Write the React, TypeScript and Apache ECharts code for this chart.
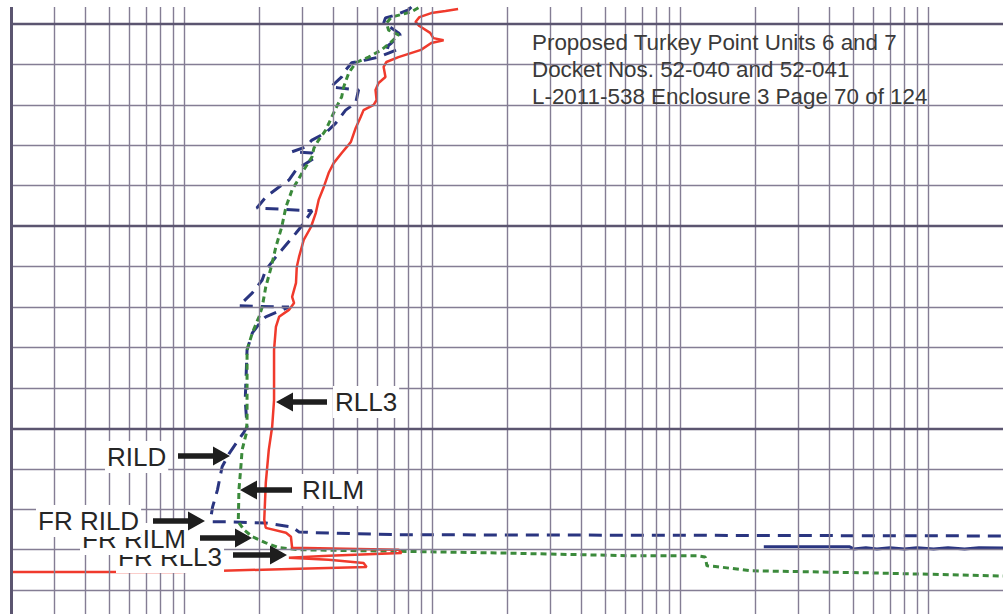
import React, { useEffect, useRef } from "react";
import * as echarts from "echarts";

// Resistivity (ohm-m) on a log scale vs. depth (relative units, 10 per grid division)
const rll3Res = [12.7, 11.3, 9.9, 8.87, 8.55, 8.87, 9.8, 10.1, 11.1, 9.9, 9.0, 7.3, 6.53, 6.36, 6.47, 6.07, 5.9, 5.96, 5.8, 5.28, 5.14, 4.91, 4.69, 4.52, 4.31, 4.0, 3.82, 3.65, 3.48, 3.39, 3.24, 3.03, 2.9, 2.84, 2.82, 2.72, 2.77, 2.64, 2.41, 2.34, 2.3, 2.3, 2.26, 2.19, 2.13, 2.1, 2.13, 2.57, 2.69, 2.72, 7.3, 7.51, 3.82, 2.64, 3.82, 5.28, 5.43, 2.9, 0.955, 0.2];
const rll3Depth = [-3.7, -3.2, -2.7, -1.7, -0.5, 0.5, 2.2, 3.5, 4.0, 4.7, 6.4, 8.2, 9.4, 10.6, 13.1, 14.6, 16.3, 18.8, 20.0, 21.3, 23.0, 25.7, 29.2, 30.4, 31.9, 34.4, 36.8, 40.3, 43.5, 46.7, 50.2, 53.4, 57.6, 60.1, 64.0, 67.5, 69.0, 70.7, 72.4, 74.9, 80.6, 93.0, 99.6, 105.3, 113.5, 122.6, 124.6, 125.8, 126.8, 129.5, 130.0, 130.8, 131.5, 132.0, 132.5, 133.3, 134.3, 134.7, 135.5, 135.5];

const rilmRes = [8.79, 8.24, 6.84, 6.53, 6.66, 7.3, 6.84, 6.24, 5.53, 4.91, 4.6, 4.39, 4.31, 4.11, 3.93, 3.72, 3.48, 3.33, 3.27, 3.03, 2.84, 2.72, 2.57, 2.47, 2.34, 2.24, 2.13, 2.06, 2.0, 1.88, 1.79, 1.79, 1.79, 1.79, 1.78, 1.71, 1.69, 1.66, 1.65, 1.74, 1.88, 2.13, 2.41, 2.9, 18.4, 63, 117, 126, 128, 141, 191, 548, 2000];
const rilmDepth = [-4.0, -3.0, -1.7, -0.2, 1.5, 2.7, 4.4, 6.4, 8.2, 9.6, 12.1, 15.6, 18.0, 20.5, 23.0, 26.2, 28.7, 30.7, 32.9, 36.1, 39.1, 41.0, 45.2, 50.2, 55.1, 60.1, 65.0, 70.0, 72.4, 76.4, 80.6, 84.8, 93.0, 97.9, 101.1, 105.3, 109.5, 115.2, 123.1, 125.1, 126.8, 128.3, 129.5, 130.0, 130.8, 131.5, 131.5, 131.8, 134.0, 134.2, 135.2, 135.7, 136.5];

const rildRes = [8.23, 8.01, 7.1, 6.47, 6.36, 6.84, 7.3, 7.43, 6.84, 6.53, 7.17, 6.66, 6.07, 5.38, 4.73, 4.47, 4.31, 3.89, 4.19, 5.04, 4.91, 4.47, 4.08, 3.72, 3.27, 3.09, 2.72, 3.27, 3.39, 2.82, 2.64, 2.41, 2.13, 1.96, 3.27, 2.95, 2.82, 2.47, 2.34, 2.13, 2.06, 1.88, 1.66, 2.64, 2.13, 2.06, 1.88, 1.79, 1.78, 1.76, 1.79, 1.74, 1.62, 1.52, 1.42, 1.36, 1.30, 1.28, 1.30, 1.48, 2.13, 2.72, 2.9, 3.39, 7.3, 2000];
const rildDepth = [-4.2, -3.5, -2.2, -1.5, -0.2, 1.0, 2.2, 2.7, 4.7, 5.7, 6.4, 7.2, 8.2, 8.9, 9.6, 11.4, 13.1, 15.6, 15.8, 16.3, 19.5, 21.3, 24.5, 26.9, 28.7, 30.4, 31.6, 31.9, 32.9, 36.1, 38.6, 40.3, 42.8, 45.5, 46.2, 50.2, 51.7, 55.9, 57.6, 60.8, 63.3, 66.5, 69.7, 70.0, 72.4, 73.2, 76.4, 80.6, 84.8, 93.0, 99.6, 100.9, 103.6, 106.1, 109.5, 115.2, 119.4, 121.9, 123.1, 123.1, 123.4, 124.4, 125.6, 125.8, 126.3, 126.6];

const rildSolidRes = [217, 482, 500, 560, 620, 700, 800, 900, 1050, 1200, 1400, 1600, 2000];
const rildSolidDepth = [129.3, 129.3, 129.8, 129.5, 129.8, 129.5, 129.8, 129.5, 129.8, 129.5, 129.8, 129.5, 129.6];

// Grid (tick) values
const gridRes = [0.3, 0.4, 0.5, 0.6, 0.7, 0.8, 0.9, 1, 2, 3, 4, 5, 6, 7, 8, 9, 10, 20, 30, 40, 50, 60, 70, 80, 90, 100, 200, 300, 400, 500, 600, 700, 800, 900, 1000];
const gridDepth = [0, 10, 20, 30, 40, 50, 60, 70, 80, 90, 100, 110, 120, 130, 140];
const majorDepth = [0, 50, 100];

const headerLines = [
  "Proposed Turkey Point Units 6 and 7",
  "Docket Nos. 52-040 and 52-041",
  "L-2011-538 Enclosure 3 Page 70 of 124",
];

const curveLabels = ["RLL3", "RILD", "RILM", "FR RILD", "FR RILM", "FR RLL3"];

const FONT = '"Liberation Sans", Arial, sans-serif';

const zip = (a: number[], b: number[]) => a.map((v, i) => [v, b[i]]);

function arrow(tail: number, tip: number, y: number, z: number) {
  const dir = tip > tail ? 1 : -1;
  const hl = 17, hh = 9.5, sh = 2.7;
  const base = tip - dir * hl;
  return {
    type: "polygon",
    z,
    shape: {
      points: [
        [tail, y - sh], [base, y - sh], [base, y - hh], [tip, y],
        [base, y + hh], [base, y + sh], [tail, y + sh],
      ],
    },
    style: { fill: "#1e1e1e" },
    silent: true,
  };
}

function label(text: string, x: number, y: number, z: number) {
  return {
    type: "text",
    x,
    y,
    z,
    silent: true,
    style: {
      text,
      fill: "#262626",
      font: `26px ${FONT}`,
      fontSize: 26,
      fontFamily: FONT,
      align: "left",
      textAlign: "left",
      verticalAlign: "middle",
      textVerticalAlign: "middle",
      backgroundColor: "#ffffff",
      padding: [2, 2, 4, 2],
    },
  };
}

export default function App() {
  const ref = useRef<HTMLDivElement>(null);
  useEffect(() => {
    if (!ref.current) return;
    const chart = echarts.init(ref.current, null, { renderer: "svg" });
    const minorColor = "#847d94";
    const majorColor = "#5b5570";

    const markData: any[] = [
      ...gridRes.map((v) => ({ xAxis: v, lineStyle: { color: minorColor, width: 1.4, type: "solid" } })),
      ...gridDepth.map((d) => ({
        yAxis: d,
        lineStyle: majorDepth.includes(d)
          ? { color: majorColor, width: 2.4, type: "solid" }
          : { color: minorColor, width: 1.4, type: "solid" },
      })),
      { xAxis: 0.2, lineStyle: { color: majorColor, width: 3, type: "solid" } },
    ];

    const graphics: any[] = [
      ...headerLines.map((t, i) => ({
        type: "text",
        x: 532,
        y: 42.5 + i * 27,
        z: 50,
        silent: true,
        style: {
          text: t,
          fill: "#3a3a3a",
          font: `22.4px ${FONT}`,
          fontSize: 22.4,
          fontFamily: FONT,
          align: "left",
          textAlign: "left",
          verticalAlign: "middle",
          textVerticalAlign: "middle",
        },
      })),
      label(curveLabels[0], 333, 402, 60),
      label(curveLabels[1], 105, 457, 60),
      label(curveLabels[2], 300, 490, 60),
      label(curveLabels[5], 116, 557, 61),
      label(curveLabels[4], 80, 539, 62),
      label(curveLabels[3], 36, 521, 63),
      arrow(327, 276, 402, 70),
      arrow(178, 230, 456, 70),
      arrow(292, 240, 490, 70),
      arrow(153, 205, 521, 70),
      arrow(200, 252, 538, 70),
      arrow(233, 287, 555, 70),
    ];

    chart.setOption({
      animation: false,
      backgroundColor: "#ffffff",
      grid: { left: 11, right: -4, top: 7, bottom: 0, containLabel: false },
      xAxis: { type: "log", logBase: 10, min: 0.2, max: 2000, show: false },
      yAxis: { type: "value", inverse: true, min: -4.2, max: 145.9, show: false },
      series: [
        {
          type: "line",
          name: "grid",
          data: [[0.2, -4.2]],
          symbol: "none",
          silent: true,
          lineStyle: { opacity: 0 },
          markLine: {
            silent: true,
            symbol: ["none", "none"],
            label: { show: false },
            animation: false,
            data: markData,
          },
        },
        {
          type: "line",
          name: "RILD (solid)",
          data: zip(rildSolidRes, rildSolidDepth),
          symbol: "none",
          silent: true,
          lineStyle: { color: "#2a3580", width: 3 },
        },
        {
          type: "line",
          name: "RILD",
          data: zip(rildRes, rildDepth),
          symbol: "none",
          silent: true,
          lineStyle: { color: "#2a3580", width: 3, type: [13, 8] },
        },
        {
          type: "line",
          name: "RILM",
          data: zip(rilmRes, rilmDepth),
          symbol: "none",
          silent: true,
          lineStyle: { color: "#3b8a3b", width: 3, type: [6, 4] },
        },
        {
          type: "line",
          name: "RLL3",
          data: zip(rll3Res, rll3Depth),
          symbol: "none",
          silent: true,
          lineStyle: { color: "#f03a2c", width: 2.5 },
        },
      ],
      graphic: { elements: graphics },
    });
    return () => chart.dispose();
  }, []);

  return (
    <div
      ref={ref}
      style={{ position: "absolute", left: 0, top: 0, width: 1003, height: 614, background: "#fff" }}
    />
  );
}
